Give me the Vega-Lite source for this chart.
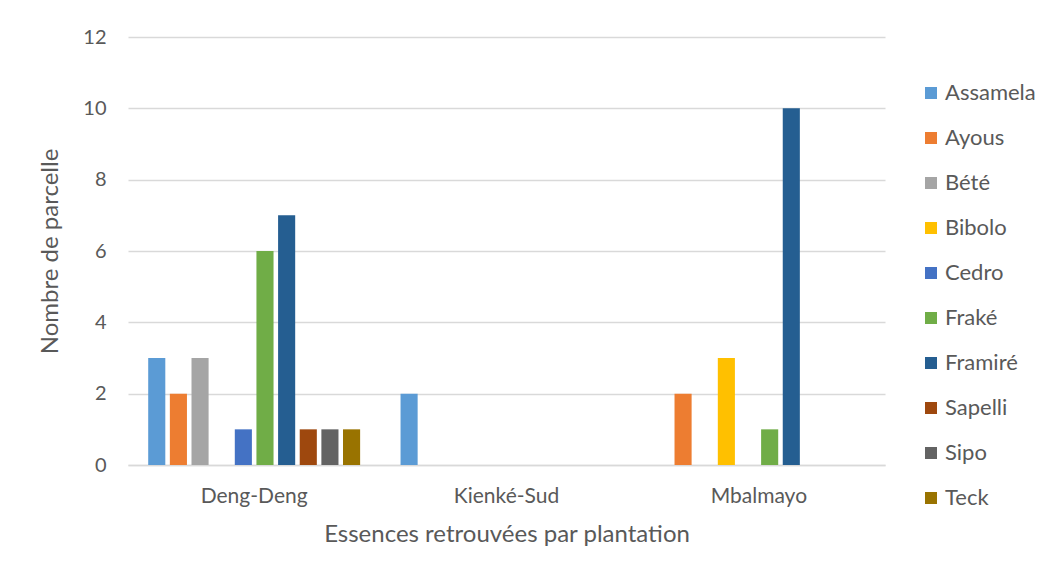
{
  "$schema": "https://vega.github.io/schema/vega-lite/v6.json",
  "autosize": {"type": "none"},
  "width": 757,
  "height": 428,
  "padding": {"left": 128, "top": 37, "right": 172, "bottom": 116},
  "background": "white",
  "config": {"view": {"stroke": null}, "font": "Lato"},
  "data": {"values": [
    {"plantation": "Deng-Deng", "essence": "Assamela", "n": 3},
    {"plantation": "Deng-Deng", "essence": "Ayous", "n": 2},
    {"plantation": "Deng-Deng", "essence": "Bété", "n": 3},
    {"plantation": "Deng-Deng", "essence": "Bibolo", "n": 0},
    {"plantation": "Deng-Deng", "essence": "Cedro", "n": 1},
    {"plantation": "Deng-Deng", "essence": "Fraké", "n": 6},
    {"plantation": "Deng-Deng", "essence": "Framiré", "n": 7},
    {"plantation": "Deng-Deng", "essence": "Sapelli", "n": 1},
    {"plantation": "Deng-Deng", "essence": "Sipo", "n": 1},
    {"plantation": "Deng-Deng", "essence": "Teck", "n": 1},
    {"plantation": "Kienké-Sud", "essence": "Assamela", "n": 2},
    {"plantation": "Kienké-Sud", "essence": "Ayous", "n": 0},
    {"plantation": "Kienké-Sud", "essence": "Bété", "n": 0},
    {"plantation": "Kienké-Sud", "essence": "Bibolo", "n": 0},
    {"plantation": "Kienké-Sud", "essence": "Cedro", "n": 0},
    {"plantation": "Kienké-Sud", "essence": "Fraké", "n": 0},
    {"plantation": "Kienké-Sud", "essence": "Framiré", "n": 0},
    {"plantation": "Kienké-Sud", "essence": "Sapelli", "n": 0},
    {"plantation": "Kienké-Sud", "essence": "Sipo", "n": 0},
    {"plantation": "Kienké-Sud", "essence": "Teck", "n": 0},
    {"plantation": "Mbalmayo", "essence": "Assamela", "n": 0},
    {"plantation": "Mbalmayo", "essence": "Ayous", "n": 2},
    {"plantation": "Mbalmayo", "essence": "Bété", "n": 0},
    {"plantation": "Mbalmayo", "essence": "Bibolo", "n": 3},
    {"plantation": "Mbalmayo", "essence": "Cedro", "n": 0},
    {"plantation": "Mbalmayo", "essence": "Fraké", "n": 1},
    {"plantation": "Mbalmayo", "essence": "Framiré", "n": 10},
    {"plantation": "Mbalmayo", "essence": "Sapelli", "n": 0},
    {"plantation": "Mbalmayo", "essence": "Sipo", "n": 0},
    {"plantation": "Mbalmayo", "essence": "Teck", "n": 0}
  ]},
  "mark": {"type": "bar"},
  "encoding": {
    "x": {
      "field": "plantation", "type": "nominal",
      "scale": {"paddingInner": 0.143, "paddingOuter": 0.0715},
      "axis": {
        "title": "Essences retrouvées par plantation",
        "titleFontSize": 24, "titleFontWeight": "normal", "titleColor": "#595959", "titlePadding": 16,
        "labelAngle": 0, "labelFontSize": 21, "labelColor": "#595959", "labelPadding": 20,
        "ticks": false, "domainColor": "#d9d9d9", "domainWidth": 1.5
      }
    },
    "xOffset": {
      "field": "essence", "type": "nominal",
      "sort": ["Assamela", "Ayous", "Bété", "Bibolo", "Cedro", "Fraké", "Framiré", "Sapelli", "Sipo", "Teck"],
      "scale": {"paddingInner": 0.21, "paddingOuter": 0.1}
    },
    "y": {
      "field": "n", "type": "quantitative",
      "scale": {"domain": [0, 12]},
      "axis": {
        "title": "Nombre de parcelle",
        "titleFontSize": 24, "titleFontWeight": "normal", "titleColor": "#595959", "titlePadding": 20,
        "values": [0, 2, 4, 6, 8, 10, 12],
        "labelFontSize": 20, "labelColor": "#595959", "labelPadding": 22,
        "ticks": false, "domain": false, "gridColor": "#d9d9d9", "gridWidth": 1.5
      }
    },
    "color": {
      "field": "essence", "type": "nominal",
      "sort": ["Assamela", "Ayous", "Bété", "Bibolo", "Cedro", "Fraké", "Framiré", "Sapelli", "Sipo", "Teck"],
      "scale": {
        "domain": ["Assamela", "Ayous", "Bété", "Bibolo", "Cedro", "Fraké", "Framiré", "Sapelli", "Sipo", "Teck"],
        "range": ["#5B9BD5", "#ED7D31", "#A5A5A5", "#FFC000", "#4472C4", "#70AD47", "#255E91", "#9E480E", "#636363", "#997300"]
      },
      "legend": {
        "title": null, "orient": "none", "legendX": 792, "legendY": 45,
        "symbolType": "square", "symbolSize": 144, "symbolStrokeWidth": 0,
        "labelFontSize": 22, "labelColor": "#595959", "rowPadding": 23, "labelOffset": 3
      }
    }
  }
}
